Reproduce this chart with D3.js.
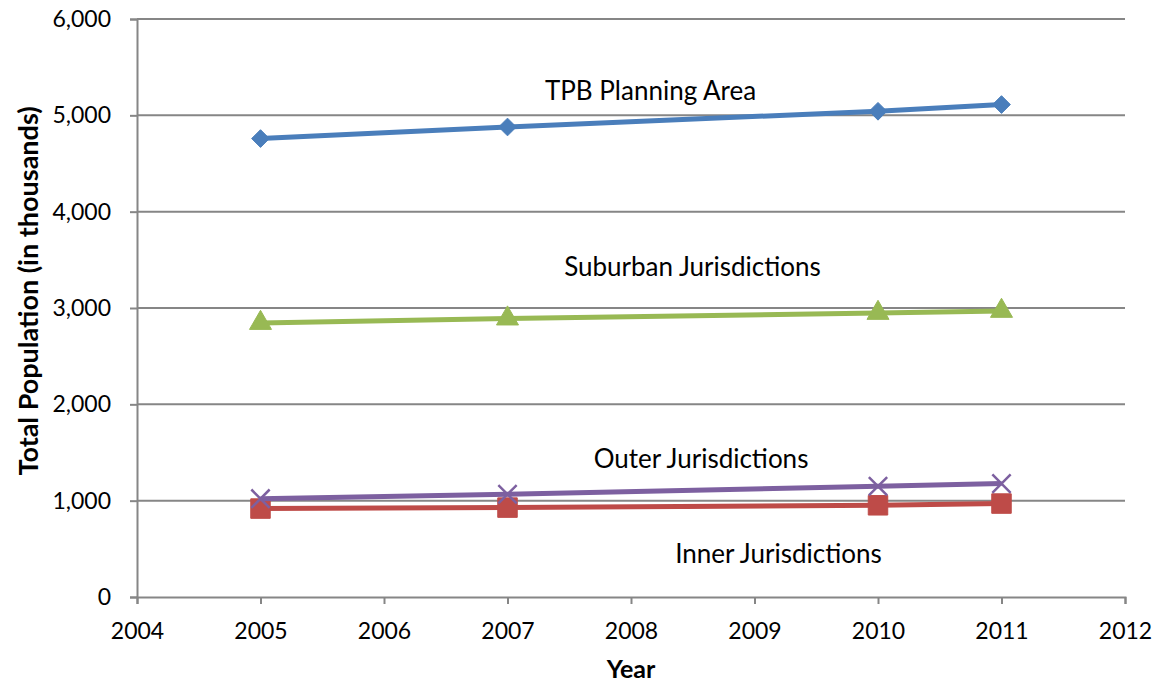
<!DOCTYPE html>
<html><head><meta charset="utf-8">
<script src="https://cdn.jsdelivr.net/npm/d3@7"></script>
<style>
html,body{margin:0;padding:0;background:#fff;}
svg{display:block;font-family:Lato,"Open Sans",sans-serif;}
</style></head>
<body>
<svg id="chart" width="1154" height="686"></svg>
<script>
const years = [2005, 2007, 2010, 2011];
const tpbValues = [4759, 4879, 5042, 5112];
const suburbanValues = [2844, 2890, 2948, 2969];
const outerValues = [1021, 1066, 1149, 1177];
const innerValues = [918, 928, 952, 970];
const xTicks = [2004, 2005, 2006, 2007, 2008, 2009, 2010, 2011, 2012];
const yTicks = [0, 1000, 2000, 3000, 4000, 5000, 6000];
const seriesNames = ["TPB Planning Area", "Inner Jurisdictions", "Suburban Jurisdictions", "Outer Jurisdictions"];

const W = 1154, H = 686;
const m = {left: 137, top: 19, right: 29, bottom: 89};
const svg = d3.select("#chart");
const x = d3.scaleLinear().domain([2004, 2012]).range([m.left, W - m.right]);
const y = d3.scaleLinear().domain([0, 6000]).range([H - m.bottom, m.top]);

const grid = "#868686";
// gridlines
svg.append("g").selectAll("line").data(yTicks.filter(d => d > 0)).join("line")
  .attr("x1", m.left).attr("x2", W - m.right)
  .attr("y1", d => y(d)).attr("y2", d => y(d))
  .attr("stroke", grid).attr("stroke-width", 2);

// y axis
const yAxis = svg.append("g").attr("transform", `translate(${m.left},0)`)
  .call(d3.axisLeft(y).tickValues(yTicks).tickFormat(d3.format(",")).tickSize(7).tickPadding(19));
yAxis.select(".domain").attr("stroke", grid).attr("stroke-width", 2);
yAxis.selectAll(".tick line").attr("stroke", grid).attr("stroke-width", 2);
yAxis.selectAll("text").attr("font-size", 23).attr("fill", "#000").attr("font-family", "Lato");

// x axis
const xAxis = svg.append("g").attr("transform", `translate(0,${y(0)})`)
  .call(d3.axisBottom(x).tickValues(xTicks).tickFormat(d3.format("d")).tickSize(7).tickPadding(19));
xAxis.select(".domain").attr("stroke", grid).attr("stroke-width", 2);
xAxis.selectAll(".tick line").attr("stroke", grid).attr("stroke-width", 2);
xAxis.selectAll("text").attr("font-size", 23).attr("fill", "#000").attr("font-family", "Lato");

const series = [
  {name: seriesNames[0], values: tpbValues, color: "#4a7ebb", marker: "diamond"},
  {name: seriesNames[1], values: innerValues, color: "#be4b48", marker: "square"},
  {name: seriesNames[2], values: suburbanValues, color: "#98b954", marker: "triangle"},
  {name: seriesNames[3], values: outerValues, color: "#7d60a0", marker: "x"}
];

const line = d3.line().x(d => x(d[0])).y(d => y(d[1]));
const symbols = {
  diamond: d3.symbol().type(d3.symbolDiamond2).size(200),
  square: d3.symbol().type(d3.symbolSquare).size(380),
  triangle: d3.symbol().type(d3.symbolTriangle).size(210),
  x: d3.symbol().type(d3.symbolX).size(220)
};

series.forEach(s => {
  const pts = years.map((yr, i) => [yr, s.values[i]]);
  const g = svg.append("g");
  g.append("path").datum(pts).attr("d", line)
    .attr("fill", "none").attr("stroke", s.color).attr("stroke-width", 5).attr("stroke-linejoin", "round");
  g.selectAll("path.mk").data(pts).join("path").attr("class", "mk")
    .attr("transform", d => `translate(${x(d[0])},${y(d[1])})`)
    .attr("d", symbols[s.marker]())
    .attr("fill", s.marker === "x" ? "none" : s.color)
    .attr("stroke", s.color)
    .attr("stroke-width", s.marker === "x" ? 2.5 : 1);
});

// series labels
const labels = [
  {text: seriesNames[0], cx: 2008.158, v: 5160},
  {text: seriesNames[2], cx: 2008.498, v: 3329},
  {text: seriesNames[3], cx: 2008.567, v: 1336},
  {text: seriesNames[1], cx: 2009.194, v: 349}
];
svg.append("g").selectAll("text").data(labels).join("text")
  .attr("x", d => x(d.cx)).attr("y", d => y(d.v))
  .attr("text-anchor", "middle").attr("font-size", 26).attr("fill", "#000")
  .text(d => d.text);

// axis titles
svg.append("text").attr("x", 631).attr("y", 678)
  .attr("text-anchor", "middle").attr("font-size", 25).attr("font-weight", "bold").text("Year");
svg.append("text").attr("transform", `translate(38,291) rotate(-90)`)
  .attr("text-anchor", "middle").attr("font-size", 27).attr("font-weight", "bold").text("Total Population (in thousands)");
</script>
</body></html>
